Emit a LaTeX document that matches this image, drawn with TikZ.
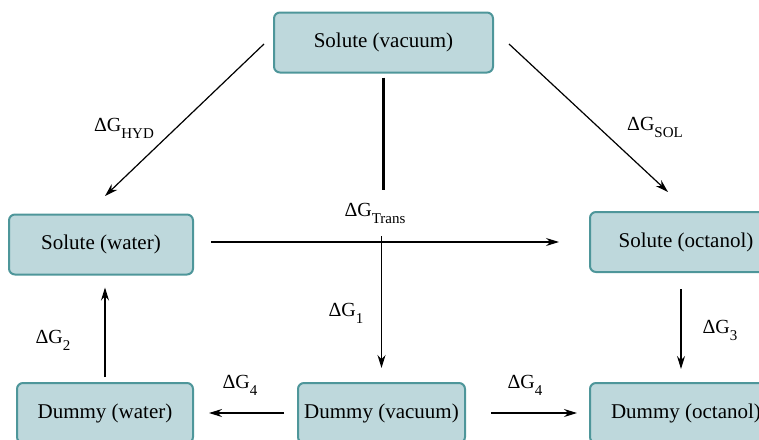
\documentclass[tikz,border=0pt]{standalone}
\usepackage{fontspec}
\setmainfont{Liberation Serif}
\usetikzlibrary{arrows.meta,calc}
\definecolor{boxfill}{RGB}{190,216,220}
\definecolor{boxline}{RGB}{78,150,154}
\newcommand{\dG}[1]{ΔG\raisebox{-3.5pt}{\fontsize{7.5}{8}\selectfont #1}}

\begin{document}
\begin{tikzpicture}[x=0.5pt,y=-0.5pt,
st/.style={draw=boxline,line width=1pt,rounded corners=3pt,fill=boxfill,align=center,minimum height=30pt,inner xsep=2pt,font=\fontsize{10.5}{12}\selectfont},
lbl/.style={font=\fontsize{10}{12}\selectfont,inner sep=1pt},
arr/.style={-{Stealth[length=6.5pt,width=4pt]},line width=0.6pt},
thk/.style={line width=1.3pt}
]
\useasboundingbox (0,0) rectangle (759,439);
\clip (0,0) rectangle (759,439);
% boxes
\node[st,minimum width=109.5pt] (vac) at (383.5,42.5) {Solute (vacuum)};
\node[st,minimum width=92pt] (swat) at (101,244.5) {Solute (water)};
\node[st,minimum width=96pt] (soct) at (686,242) {Solute (octanol)};
\node[st,minimum width=88pt] (dwat) at (105,413) {Dummy (water)};
\node[st,minimum width=83.5pt] (dvac) at (381.5,413) {Dummy (vacuum)};
\node[st,minimum width=96pt] (doct) at (686,413) {Dummy (octanol)};
% labels
\node[lbl] (hyd) at (124,128) {\dG{HYD}};
\node[lbl] (sol) at (655,127) {\dG{SOL}};
\node[lbl] (trans) at (375,213) {\dG{Trans}};
\node[lbl] (g1) at (346,313) {\dG{1}};
\node[lbl] (g2) at (53,340) {\dG{2}};
\node[lbl] (g3) at (720,330) {\dG{3}};
\node[lbl] (g4a) at (240,385) {\dG{4}};
\node[lbl] (g4b) at (525,385) {\dG{4}};
\coordinate (tt) at (383.5,190);
\coordinate (tb) at (381.5,236);
% connectors
\draw[arr] ($(vac.west)+(-9,1.5)$) -- ($(swat.north)+(4,-17.5)$);
\draw[arr] ($(vac.east)+(15,1.5)$) -- ($(soct.north)+(-18,-19)$);
\draw[thk,shorten <=2pt] (vac.south) -- (tt);
\draw[arr,shorten >=7pt] (tb) -- (dvac.north);
\draw[arr,shorten <=8.5pt,shorten >=15pt] (swat.east |- soct.west) -- (soct.west);
\draw[arr,shorten <=8pt,shorten >=6.5pt] ([xshift=-2.5pt]soct.south) -- ([xshift=-2.5pt]doct.north);
\draw[arr,shorten <=2.5pt,shorten >=6pt] (dwat.north) -- (dwat.north |- swat.south);
\draw[arr,shorten <=6.5pt,shorten >=7.5pt] (dvac.west) -- (dwat.east);
\draw[arr,shorten <=12.5pt,shorten >=6pt] (dvac.east) -- (doct.west);
\end{tikzpicture}
\end{document}
